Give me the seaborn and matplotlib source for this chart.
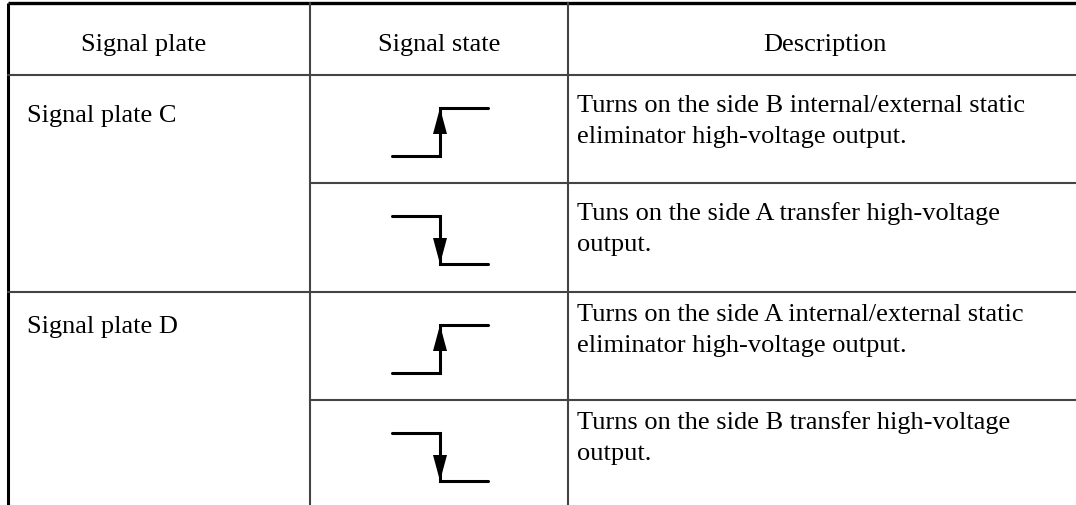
import numpy as np
import pandas as pd
import seaborn as sns
import matplotlib.pyplot as plt

# table content
headers = ['Signal plate', 'Signal state', 'Description']
plates = ['Signal plate C', 'Signal plate D']
states = ['up', 'down', 'up', 'down']
descriptions = [
    'Turns on the side B internal/external static\neliminator high-voltage output.',
    'Tuns on the side A transfer high-voltage\noutput.',
    'Turns on the side A internal/external static\neliminator high-voltage output.',
    'Turns on the side B transfer high-voltage\noutput.',
]

W, H = 1076, 506
col_x = [8, 310, 568]
row_y = [4, 76, 184, 293, 401]
desc_off = [36, 36, 28, 28]
plate_off = [46, 40]
line_gap = 31

sns.set_style('white')
plt.rcParams['font.family'] = ['Liberation Serif', 'DejaVu Serif']
plt.rcParams['text.color'] = 'black'
fs = 19
grid_col = '#444444'

fig = plt.figure(figsize=(W / 100, H / 100), dpi=100)
ax = fig.add_axes([0, 0, 1, 1])
ax.set_xlim(0, W)
ax.set_ylim(H, 0)
ax.axis('off')

# frame and grid (vertical lines run off the bottom edge)
ax.plot([col_x[0], W + 5], [row_y[0], row_y[0]], color='black', lw=2.4,
        solid_capstyle='butt', clip_on=True)
ax.plot([col_x[0], col_x[0]], [row_y[0], H + 10], color='black', lw=2.2,
        solid_capstyle='butt', clip_on=True)
for x in col_x[1:]:
    ax.plot([x, x], [row_y[0], H + 10], color=grid_col, lw=1.5, clip_on=True)
ax.plot([col_x[0], W + 5], [row_y[1], row_y[1]], color=grid_col, lw=1.5, clip_on=True)
ax.plot([col_x[0], W + 5], [row_y[3], row_y[3]], color=grid_col, lw=1.5, clip_on=True)
for y in [row_y[2], row_y[4]]:
    ax.plot([col_x[1], W + 5], [y, y], color=grid_col, lw=1.5, clip_on=True)

# header
head_x = [144, 439, 825]
for hx, txt in zip(head_x, headers):
    ax.text(hx, 51, txt, ha='center', va='baseline', fontsize=fs, color='black')

# signal plate names
for i, txt in enumerate(plates):
    ax.text(27, row_y[1 + 2 * i] + plate_off[i], txt, ha='left', va='baseline',
            fontsize=fs, color='black')

# descriptions, one line at a time
for i, txt in enumerate(descriptions):
    for j, line in enumerate(txt.split('\n')):
        ax.text(577, row_y[i + 1] + desc_off[i] + j * line_gap, line,
                ha='left', va='baseline', fontsize=fs, color='black')

# signal state step symbols
x0, xm, x1 = 392, 440, 488
for i, st in enumerate(states):
    top = row_y[i + 1]
    hi = top + 33
    lo = top + 81
    if st == 'up':
        ax.plot([x0, xm, xm, x1], [lo, lo, hi, hi], color='black', lw=2.2,
                solid_joinstyle='miter')
        ax.fill([xm - 7, xm + 7, xm], [hi + 26, hi + 26, hi], color='black', lw=0)
    else:
        ax.plot([x0, xm, xm, x1], [hi, hi, lo, lo], color='black', lw=2.2,
                solid_joinstyle='miter')
        ax.fill([xm - 7, xm + 7, xm], [lo - 26, lo - 26, lo], color='black', lw=0)

plt.savefig('out.png', dpi=100)
plt.close()
